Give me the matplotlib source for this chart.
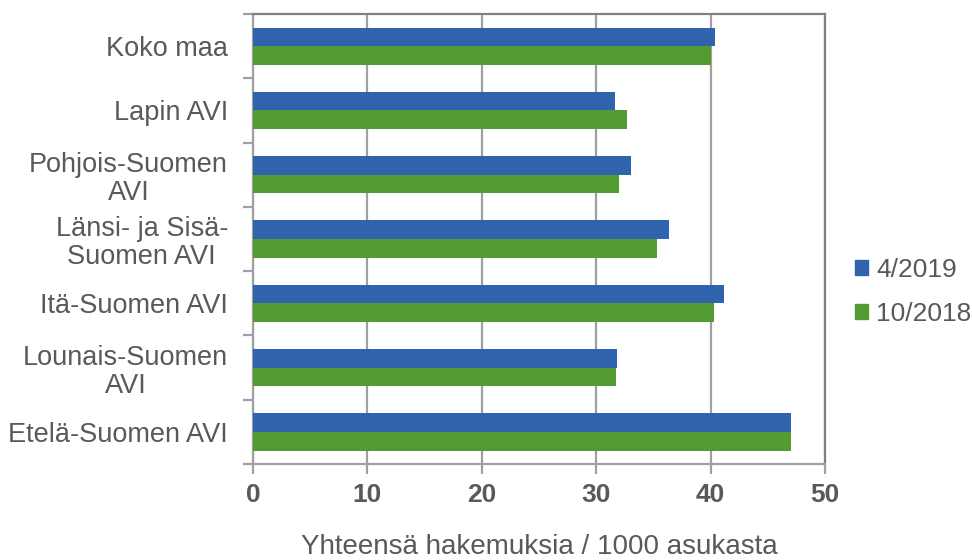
import matplotlib
matplotlib.use('Agg')
import matplotlib.pyplot as plt
import numpy as np
from matplotlib.patches import Patch

plt.rcParams['font.family'] = ['Liberation Sans', 'DejaVu Sans']

regions = ['Koko maa', 'Lapin AVI', 'Pohjois-Suomen\nAVI', 'Länsi- ja Sisä-\nSuomen AVI',
           'Itä-Suomen AVI', 'Lounais-Suomen\nAVI', 'Etelä-Suomen AVI']
apr_2019 = [40.4, 31.6, 33.0, 36.4, 41.2, 31.8, 47.0]
oct_2018 = [40.0, 32.7, 32.0, 35.3, 40.3, 31.7, 47.0]

blue = '#3063AD'
green = '#529B30'
grid_col = '#A0A0A0'
text_col = '#595959'

fig = plt.figure(figsize=(9.72, 5.6), dpi=100)
ax = fig.add_axes([253 / 972, 1 - 464 / 560, (825 - 253) / 972, (464 - 14) / 560])

y = np.arange(len(regions))
h = 0.29
ax.barh(y - h / 2, apr_2019, height=h, color=blue, zorder=3)
ax.barh(y + h / 2, oct_2018, height=h, color=green, zorder=3)

ax.set_xlim(0, 50)
ax.set_ylim(len(regions) - 0.5, -0.5)
ax.set_xticks(np.arange(0, 51, 10))
ax.xaxis.grid(True, color=grid_col, linewidth=1.6, zorder=0)

ax.set_yticks(y)
ax.set_yticklabels(regions, fontsize=19.5, color=text_col, ha='right',
                   multialignment='center', linespacing=1.1)
ax.tick_params(axis='y', which='major', length=0, pad=18)
ax.set_yticks(np.arange(-0.5, len(regions)), minor=True)
ax.tick_params(axis='y', which='minor', length=7, width=1.6, color=grid_col, direction='out')

ax.tick_params(axis='x', length=7, width=1.6, color=grid_col, labelsize=19, labelcolor=text_col, pad=7)
for lab in ax.get_xticklabels():
    lab.set_fontweight('bold')

for side in ['top', 'right']:
    ax.spines[side].set_color('#808080')
    ax.spines[side].set_linewidth(1.6)
for side in ['left', 'bottom']:
    ax.spines[side].set_color(grid_col)
    ax.spines[side].set_linewidth(1.6)

ax.set_xlabel('Yhteensä hakemuksia / 1000 asukasta', fontsize=20, color=text_col, labelpad=19)

handles = [Patch(color=blue, label='4/2019'), Patch(color=green, label='10/2018')]
fig.legend(handles=handles, loc='center left', bbox_to_anchor=(855 / 972, 1 - 292 / 560),
           frameon=False, fontsize=19, labelcolor=text_col, handlelength=0.5, handleheight=0.5,
           handletextpad=0.3, labelspacing=0.75, borderaxespad=0, borderpad=0)

fig.savefig('out.png', dpi=100)
